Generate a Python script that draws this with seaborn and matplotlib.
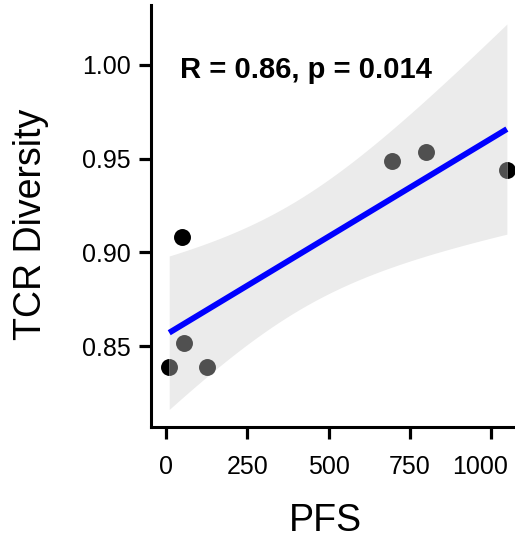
import numpy as np
import matplotlib
matplotlib.use("Agg")
import matplotlib.pyplot as plt
import matplotlib.transforms as mtransforms
import seaborn as sns

# Progression-free survival vs. TCR repertoire diversity, one value per patient
pfs = [10, 50, 55, 125, 694, 800, 1048]
tcr_diversity = [0.839, 0.908, 0.8515, 0.8387, 0.9488, 0.9537, 0.944]

x_ticks = [0, 250, 500, 750, 1000]
y_ticks = [0.85, 0.90, 0.95, 1.00]
cor_label = "R = 0.86, p = 0.014"

# marker fill per point: (fillstyle, main colour, alternate colour)
DARK = "#000000"
GREY = "#505050"
point_fill = [
    ("left", DARK, GREY),
    ("full", DARK, DARK),
    ("full", GREY, GREY),
    ("full", GREY, GREY),
    ("full", GREY, GREY),
    ("full", GREY, GREY),
    ("right", DARK, GREY),
]

sns.set_style("ticks")
plt.rcParams["font.family"] = ["Liberation Sans", "DejaVu Sans"]
plt.rcParams["text.color"] = "black"
plt.rcParams["axes.labelcolor"] = "black"

fig = plt.figure(figsize=(5.15, 5.4), dpi=100)
ax = fig.add_axes([151 / 515, 113 / 540, 364 / 515, 422 / 540])

# 95% confidence band of the least-squares fit (t distribution, n - 2 = 5 df)
x = np.asarray(pfs, float)
y = np.asarray(tcr_diversity, float)
n = len(x)
slope, intercept = np.polyfit(x, y, 1)
resid = y - (slope * x + intercept)
s = np.sqrt(np.sum(resid ** 2) / (n - 2))
sxx = np.sum((x - x.mean()) ** 2)
t_crit = 2.5706
grid = np.linspace(x.min(), x.max(), 200)
fit = slope * grid + intercept
half = t_crit * s * np.sqrt(1 / n + (grid - x.mean()) ** 2 / sxx)
ax.fill_between(grid, fit - half, fit + half, color="#ebebeb", lw=0, zorder=1)

sns.regplot(x=pfs, y=tcr_diversity, ax=ax, ci=None, scatter=False,
            line_kws=dict(color="#0000ff", lw=4.2, zorder=2, solid_capstyle="butt"))

for xi, yi, (style, c1, c2) in zip(pfs, tcr_diversity, point_fill):
    ax.plot([xi], [yi], marker="o", linestyle="none", markersize=12.2,
            fillstyle=style, markerfacecolor=c1, markerfacecoloralt=c2,
            markeredgewidth=0, zorder=3, clip_on=False)

ax.text(43, 0.9975, cor_label, fontsize=21, fontweight="bold", color="black",
        ha="left", va="center", zorder=4)

ax.set_xlim(-46, 1073)
ax.set_ylim(0.8068, 1.032)
ax.set_xticks(x_ticks)
ax.set_xticklabels([str(v) for v in x_ticks])
ax.set_yticks(y_ticks)
ax.set_yticklabels([f"{v:.2f}" for v in y_ticks])

ax.set_xlabel("PFS", fontsize=27, va="center", ha="center", color="black")
ax.set_ylabel("TCR Diversity", fontsize=27, va="center", ha="center", color="black")
ax.xaxis.set_label_coords(0.478, -0.223)
ax.yaxis.set_label_coords(-0.331, 0.479)

for side in ("top", "right"):
    ax.spines[side].set_visible(False)
for side in ("left", "bottom"):
    ax.spines[side].set_linewidth(2.2)
    ax.spines[side].set_color("black")

ax.tick_params(axis="both", colors="black", width=2.3, length=8.5, labelsize=18)
ax.tick_params(axis="x", pad=12)
ax.tick_params(axis="y", pad=6)

# keep the last x tick label inside the figure edge
last = ax.get_xticklabels()[-1]
last.set_transform(last.get_transform()
                   + mtransforms.ScaledTranslation(-8 / 72, 0, fig.dpi_scale_trans))

fig.savefig("out.png", dpi=100, facecolor="white")
